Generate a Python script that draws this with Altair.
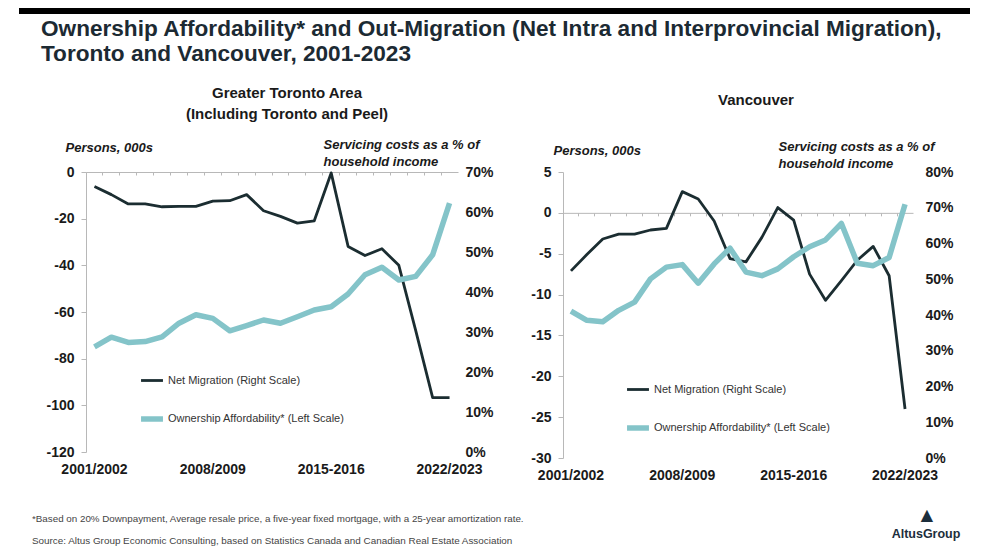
import altair as alt
import pandas as pd

# ---------------- data ----------------
periods = ["2001/2002", "2002/2003", "2003/2004", "2004/2005", "2005/2006", "2006/2007",
           "2007/2008", "2008/2009", "2009/2010", "2010/2011", "2011/2012", "2012/2013",
           "2013/2014", "2014/2015", "2015-2016", "2016/2017", "2017/2018", "2018/2019",
           "2019/2020", "2020/2021", "2021/2022", "2022/2023"]
tick_labels = ["2001/2002", "2008/2009", "2015-2016", "2022/2023"]

gta_net_migration = [-6.2, -9.7, -13.7, -13.7, -14.9, -14.7, -14.7, -12.5, -12.3, -9.7, -16.6,
                     -19.0, -21.9, -20.9, -0.4, -31.9, -35.8, -32.9, -40.0, -68.0, -96.7, -96.7]
gta_affordability = [26.3, 28.7, 27.4, 27.6, 28.8, 32.2, 34.3, 33.4, 30.3, 31.6, 33.0,
                     32.2, 33.8, 35.5, 36.3, 39.5, 44.3, 46.2, 43.0, 43.9, 49.3, 62.2]
van_net_migration = [-7.1, -5.1, -3.2, -2.6, -2.6, -2.1, -1.9, 2.6, 1.7, -1.0, -5.6,
                     -6.0, -3.0, 0.65, -0.9, -7.5, -10.7, -8.3, -5.8, -4.1, -7.7, -24.0]
van_affordability = [41.1, 38.5, 38.1, 41.3, 43.6, 50.1, 53.4, 54.1, 48.9, 54.3, 58.7,
                     52.0, 51.0, 52.9, 56.3, 59.1, 61.0, 65.6, 54.5, 53.8, 56.1, 71.0]

gta_left_ticks = [0, -20, -40, -60, -80, -100, -120]
gta_right_ticks = [0, 10, 20, 30, 40, 50, 60, 70]
van_left_ticks = [5, 0, -5, -10, -15, -20, -25, -30]
van_right_ticks = [0, 10, 20, 30, 40, 50, 60, 70, 80]

title_lines = ["Ownership Affordability* and Out-Migration (Net Intra and Interprovincial Migration),",
               "Toronto and Vancouver, 2001-2023"]
gta_title = ["Greater Toronto Area", "(Including Toronto and Peel)"]
van_title = ["Vancouver"]
left_axis_title = "Persons, 000s"
right_axis_title = ["Servicing costs as a % of", "household income"]
footnote = "*Based on 20% Downpayment, Average resale price, a five-year fixed mortgage, with a 25-year amortization rate."
source = "Source:   Altus Group Economic Consulting, based on Statistics Canada and Canadian Real Estate Association"

DARK = "#1b2d31"
TEAL = "#84c4c9"
TXT = "#1a1a1a"
AXC = "#b8b8b8"
FONT = "Liberation Sans"


def txt(text, x, y, size, weight="normal", style="normal", align="left", color=TXT, line_height=None):
    kw = dict(text=text, align=align, baseline="alphabetic", fontSize=size, fontWeight=weight,
              fontStyle=style, color=color, font=FONT)
    if line_height is not None:
        kw["lineHeight"] = line_height
    return alt.Chart(pd.DataFrame({"k": [0]})).mark_text(**kw).encode(
        x=alt.value(x), y=alt.value(y))


def panel(net, aff, net_label, aff_label, W, H, ydom, yvals, rdom, rvals,
          persons_xy, right_title_xy, right_pad, legend_xy, extras):
    rows = []
    for p, n, a in zip(periods, net, aff):
        rows.append({"period": p, "series": net_label, "value": n})
        rows.append({"period": p, "series": aff_label, "value": a})
    df = pd.DataFrame(rows)
    base = alt.Chart(df)

    leg = alt.Legend(orient="none", legendX=legend_xy[0], legendY=legend_xy[1], title=None,
                     direction="vertical", symbolType="stroke", symbolSize=480,
                     labelFontSize=11, labelColor="#333333", labelFont=FONT, labelLimit=0,
                     rowPadding=18, labelOffset=2, padding=0)
    dom = [net_label, aff_label]
    color = alt.Color("series:N", scale=alt.Scale(domain=dom, range=[DARK, TEAL]), legend=leg)
    sw = alt.StrokeWidth("series:N", scale=alt.Scale(domain=dom, range=[2.8, 5.5]), legend=leg)
    xscale = alt.Scale(type="band", paddingInner=0, paddingOuter=0)
    y0 = H * ydom[1] / (ydom[1] - ydom[0])

    net_line = base.transform_filter(alt.FieldEqualPredicate(field="series", equal=net_label)).mark_line(
        strokeJoin="round").encode(
        x=alt.X("period:N", sort=periods, scale=xscale,
                axis=alt.Axis(orient="bottom", offset=-(H - y0), labels=False, ticks=True, tickSize=3,
                              bandPosition=0, domain=True, domainColor=AXC, tickColor=AXC, title=None)),
        y=alt.Y("value:Q", scale=alt.Scale(domain=ydom, nice=False, zero=False),
                axis=alt.Axis(orient="left", values=yvals, labelExpr="'' + datum.value",
                              labelFontSize=14, labelFontWeight="bold", labelPadding=7, tickSize=5,
                              labelFlush=False, labelOverlap=False, domain=True, domainColor=AXC,
                              tickColor=AXC, title=left_axis_title, titleAngle=0, titleAlign="left",
                              titleBaseline="alphabetic", titleFontStyle="italic", titleFontWeight="bold",
                              titleFontSize=13, titleColor=TXT, titleX=persons_xy[0], titleY=persons_xy[1])),
        color=color, strokeWidth=sw)

    aff_line = base.transform_filter(alt.FieldEqualPredicate(field="series", equal=aff_label)).mark_line(
        strokeJoin="round").encode(
        x=alt.X("period:N", sort=periods, scale=xscale,
                axis=alt.Axis(orient="bottom", values=tick_labels, labels=True, ticks=False, domain=False,
                              labelAngle=0, labelFontSize=14, labelFontWeight="bold", labelPadding=10,
                              labelColor=TXT, title=None)),
        y=alt.Y("value:Q", scale=alt.Scale(domain=rdom, nice=False, zero=False),
                axis=alt.Axis(orient="right", values=rvals, labelExpr="datum.value + '%'",
                              labelFontSize=14, labelFontWeight="bold", labelPadding=right_pad, ticks=False,
                              labelFlush=False, labelOverlap=False, domain=False,
                              title=right_title_xy[2], titleAngle=0, titleAlign="left",
                              titleBaseline="alphabetic", titleFontStyle="italic", titleFontWeight="bold",
                              titleFontSize=13, titleColor=TXT, titleLineHeight=17,
                              titleX=right_title_xy[0], titleY=right_title_xy[1])),
        color=color, strokeWidth=sw)

    return alt.layer(net_line, aff_line, *extras).resolve_scale(y="independent").resolve_axis(
        x="independent").properties(width=W, height=H)


# header / footer decorations placed relative to the left plot area (origin ~ page 86,172)
left_extras = [
    alt.Chart(pd.DataFrame({"k": [0]})).mark_rect(color="black").encode(
        x=alt.value(-67), x2=alt.value(884), y=alt.value(-164), y2=alt.value(-158)),
    txt(title_lines, -45, -136, 22.6, weight="bold", color="#1c2a33", line_height=24.5),
    txt(gta_title, 201, -74, 15, weight="bold", align="center", line_height=21),
    txt(footnote, -54, 350, 9.8, color="#444444"),
    txt(source, -54, 372, 9.9, color="#444444"),
]
right_extras = [
    txt(van_title, 193, -67, 15, weight="bold", align="center"),
    txt(["\u25B2"], 364, 350, 21, color="#1c2e3c", align="center"),
    txt(["AltusGroup"], 363, 366, 12.5, weight="bold", color="#1c2e3c", align="center"),
]

left = panel(gta_net_migration, gta_affordability,
             "Net Migration  (Right Scale)", "Ownership Affordability* (Left Scale)",
             372, 280, [-120, 0], gta_left_ticks, [0, 70], gta_right_ticks,
             (-21, -21), (-135, -24, right_axis_title), 7, (52, 196), left_extras)
right = panel(van_net_migration, van_affordability,
              "Net Migration (Right Scale)", "Ownership Affordability* (Left Scale)",
              350, 286, [-30, 5], van_left_ticks, [0, 80], van_right_ticks,
              (-10, -18), (-135, -22, right_axis_title), 12, (61, 205), right_extras)

chart = alt.hconcat(left, right, spacing=105, bounds="flush").resolve_scale(
    color="independent", strokeWidth="independent").resolve_legend(
    color="independent", strokeWidth="independent").properties(
    padding={"left": 11, "top": 0, "right": 0, "bottom": 0}, background="white").configure(
    font=FONT).configure_axis(grid=False, labelColor=TXT).configure_view(strokeWidth=0)

chart.save("out.html", embed_options={"renderer": "svg", "actions": False})
